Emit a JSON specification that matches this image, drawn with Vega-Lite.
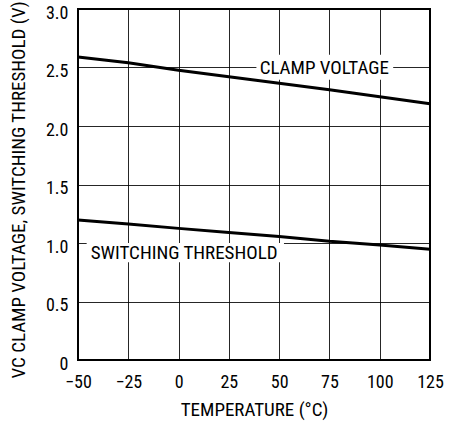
{
  "$schema": "https://vega.github.io/schema/vega-lite/v6.json",
  "width": 352,
  "height": 351,
  "autosize": {"type": "none"},
  "padding": {"left": 78, "top": 9, "right": 29, "bottom": 63},
  "background": "white",
  "config": {
    "view": {"stroke": "#000", "strokeWidth": 2},
    "font": "Roboto Condensed, Roboto, sans-serif",
    "text": {"font": "Roboto Condensed, Roboto, sans-serif"}
  },
  "datasets": {
    "curves": [
      {"s": "clamp", "t": -50, "v": 2.59},
      {"s": "clamp", "t": -25, "v": 2.54},
      {"s": "clamp", "t": 0, "v": 2.477},
      {"s": "clamp", "t": 25, "v": 2.42},
      {"s": "clamp", "t": 50, "v": 2.365},
      {"s": "clamp", "t": 75, "v": 2.31},
      {"s": "clamp", "t": 100, "v": 2.25},
      {"s": "clamp", "t": 125, "v": 2.19},
      {"s": "switch", "t": -50, "v": 1.197},
      {"s": "switch", "t": -25, "v": 1.162},
      {"s": "switch", "t": 0, "v": 1.125},
      {"s": "switch", "t": 25, "v": 1.09},
      {"s": "switch", "t": 50, "v": 1.055},
      {"s": "switch", "t": 75, "v": 1.014},
      {"s": "switch", "t": 100, "v": 0.983},
      {"s": "switch", "t": 125, "v": 0.946}
    ],
    "labels": [
      {"label": "CLAMP VOLTAGE", "t": 40.3, "v": 2.5, "t2": 38.7, "t3": 106.7, "v2": 2.395, "v3": 2.61},
      {"label": "SWITCHING THRESHOLD", "t": -43.7, "v": 0.917, "t2": -45.7, "t3": 52.4, "v2": 0.835, "v3": 1.0}
    ]
  },
  "encoding": {
    "x": {
      "field": "t",
      "type": "quantitative",
      "scale": {"domain": [-50, 125], "nice": false, "zero": false},
      "axis": {
        "title": "TEMPERATURE (°C)",
        "values": [-50, -25, 0, 25, 50, 75, 100, 125],
        "domain": false,
        "ticks": false,
        "grid": true,
        "gridColor": "#000",
        "gridWidth": 1,
        "gridOpacity": 0.85,
        "labelFontSize": 18,
        "labelColor": "#000",
        "labelPadding": 13,
        "labelFlush": false,
        "labelOverlap": false,
        "titleFontSize": 19,
        "titleFontWeight": "normal",
        "titleColor": "#000",
        "titlePadding": 9
      }
    },
    "y": {
      "field": "v",
      "type": "quantitative",
      "scale": {"domain": [0, 3], "nice": false},
      "axis": {
        "title": "VC CLAMP VOLTAGE, SWITCHING THRESHOLD (V)",
        "values": [0, 0.5, 1, 1.5, 2, 2.5, 3],
        "labelExpr": "datum.value == 0 ? '0' : format(datum.value, '.1f')",
        "domain": false,
        "ticks": false,
        "grid": true,
        "gridColor": "#000",
        "gridWidth": 1,
        "gridOpacity": 0.85,
        "labelFontSize": 18,
        "labelColor": "#000",
        "labelPadding": 10,
        "labelOffset": 4,
        "labelFlush": false,
        "labelOverlap": false,
        "titleFontSize": 19,
        "titleFontWeight": "normal",
        "titleColor": "#000",
        "titleAngle": -90,
        "titleAnchor": "start",
        "titleAlign": "left",
        "titleBaseline": "middle",
        "titleX": -60,
        "titleY": 369
      }
    }
  },
  "layer": [
    {
      "data": {"name": "labels"},
      "mark": {"type": "rect", "fill": "white", "stroke": null},
      "encoding": {
        "x": {"field": "t2", "type": "quantitative"},
        "x2": {"field": "t3"},
        "y": {"field": "v2", "type": "quantitative"},
        "y2": {"field": "v3"}
      }
    },
    {
      "data": {"name": "curves"},
      "mark": {"type": "line", "color": "#000", "strokeWidth": 3},
      "encoding": {
        "detail": {"field": "s", "type": "nominal"}
      }
    },
    {
      "data": {"name": "labels"},
      "mark": {"type": "text", "align": "left", "baseline": "middle", "fontSize": 19, "color": "#000"},
      "encoding": {
        "text": {"field": "label", "type": "nominal"}
      }
    }
  ]
}
